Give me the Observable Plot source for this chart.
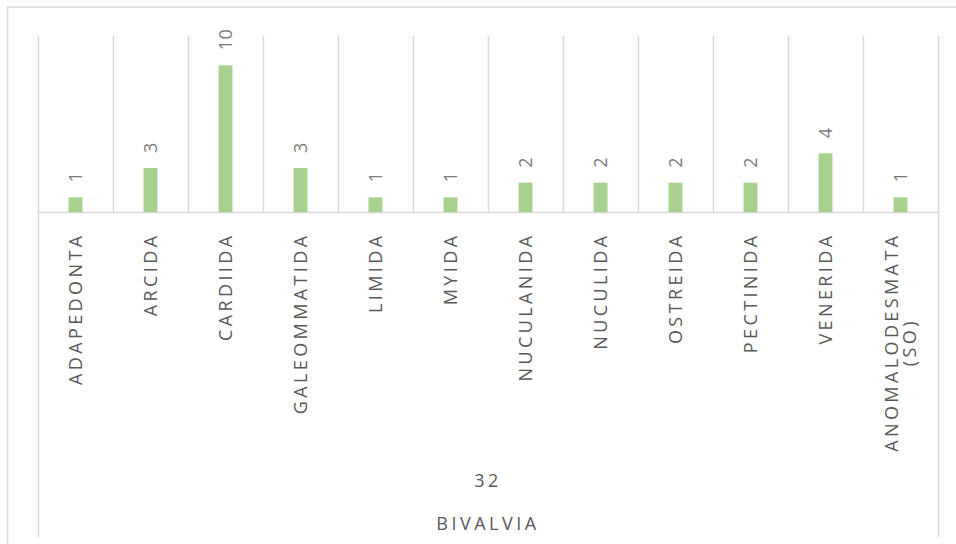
<!DOCTYPE html>
<html>
<head>
<meta charset="utf-8">
<script src="https://cdn.jsdelivr.net/npm/d3@7"></script>
<script src="https://cdn.jsdelivr.net/npm/@observablehq/plot@0.6"></script>
<style>
  html, body { margin: 0; padding: 0; background: #fff; }
  #chart { width: 956px; height: 544px; overflow: hidden; }
  .cat-labels text { letter-spacing: 3.4px; }
  .val-labels text { letter-spacing: 0.5px; }
  .grp-labels text { letter-spacing: 3.5px; }
</style>
</head>
<body>
<div id="chart"></div>
<script>
const categories = ["ADAPEDONTA", "ARCIDA", "CARDIIDA", "GALEOMMATIDA", "LIMIDA", "MYIDA",
  "NUCULANIDA", "NUCULIDA", "OSTREIDA", "PECTINIDA", "VENERIDA", "ANOMALODESMATA (SO)"];
const tickLabels = ["ADAPEDONTA", "ARCIDA", "CARDIIDA", "GALEOMMATIDA", "LIMIDA", "MYIDA",
  "NUCULANIDA", "NUCULIDA", "OSTREIDA", "PECTINIDA", "VENERIDA", "ANOMALODESMATA\n(SO)"];
const counts = [1, 3, 10, 3, 1, 1, 2, 2, 2, 2, 4, 1];
const groupName = "BIVALVIA";
const groupTotal = 32;

const data = categories.map((c, i) => ({cat: c, n: counts[i]}));
const labelOf = new Map(categories.map((c, i) => [c, tickLabels[i]]));

const W = 956, H = 544;
const mL = 37, mR = 18, mT = 36, mB = 332;
const bw = (W - mL - mR) / categories.length;
const grid = "#d9d9d9";

const plot = Plot.plot({
  width: W,
  height: H,
  marginLeft: mL,
  marginRight: mR,
  marginTop: mT,
  marginBottom: mB,
  style: {fontFamily: "'Open Sans', sans-serif", background: "#fff", overflow: "visible"},
  x: {domain: categories, padding: 0, axis: null},
  y: {domain: [0, 12], axis: null},
  marks: [
    Plot.frame({stroke: grid, strokeWidth: 1.5, insetLeft: -30, insetTop: -29.5, insetRight: -60, insetBottom: -400}),
    Plot.ruleX(categories.slice(1), {x: d => d, dx: -bw / 2, stroke: grid, strokeWidth: 1.5}),
    Plot.ruleX([categories[0]], {x: d => d, dx: -bw / 2, stroke: grid, strokeWidth: 1.5, insetBottom: -325}),
    Plot.ruleX([categories[categories.length - 1]], {x: d => d, dx: bw / 2, stroke: grid, strokeWidth: 1.5, insetBottom: -325}),
    Plot.ruleY([0], {stroke: grid, strokeWidth: 1.5}),
    Plot.barY(data, {x: "cat", y: "n", fill: "#a9d18e", insetLeft: (bw - 14) / 2, insetRight: (bw - 14) / 2}),
    Plot.text(data, {x: "cat", y: "n", text: d => String(d.n), rotate: -90, textAnchor: "start",
      dy: -15.5, dx: 0, fontSize: 18, fill: "#7a7a7a", className: "val-labels"}),
    Plot.axisX({tickRotate: -90, tickSize: 0, tickPadding: 20, fontSize: 18, fill: "#595959",
      tickFormat: d => labelOf.get(d), label: null, className: "cat-labels"}),
    Plot.text([String(groupTotal)], {frameAnchor: "bottom", text: d => d, dy: 274, fontSize: 18,
      fill: "#595959", className: "grp-labels"}),
    Plot.text([groupName], {frameAnchor: "bottom", text: d => d, dy: 317, fontSize: 18,
      fill: "#595959", className: "grp-labels"})
  ]
});

document.getElementById("chart").appendChild(plot);

// center wrapped second line with the first line of multi-line tick labels
plot.querySelectorAll(".cat-labels text").forEach(t => {
  const spans = t.querySelectorAll("tspan");
  if (spans.length === 2) {
    const l1 = spans[0].getComputedTextLength();
    const l2 = spans[1].getComputedTextLength();
    spans[1].setAttribute("x", -(l1 - l2) / 2);
  }
});
</script>
</body>
</html>
